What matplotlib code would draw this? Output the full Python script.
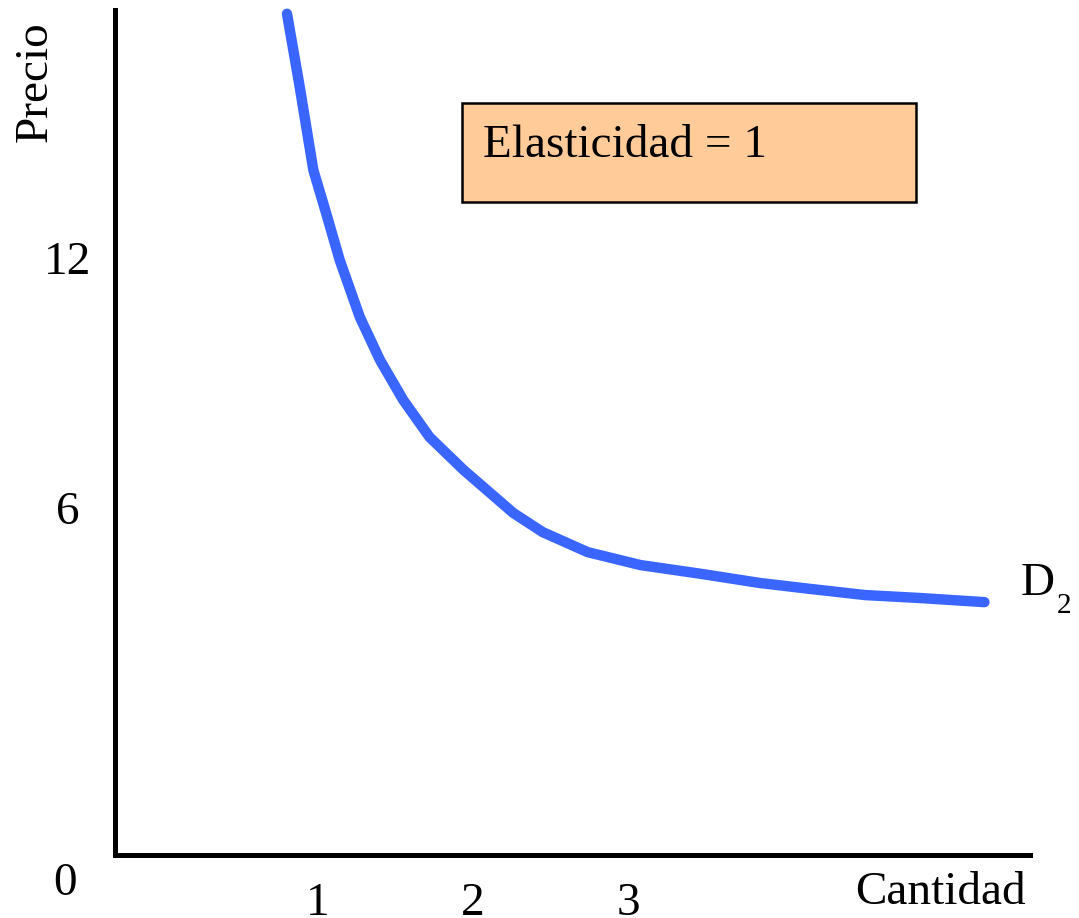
import matplotlib
matplotlib.use('Agg')
import matplotlib.pyplot as plt
from matplotlib.patches import Rectangle

# demand curve D2 (x: cantidad, y: precio)
cantidad = [0.80, 0.88, 0.97, 1.06, 1.14, 1.27, 1.40, 1.55, 1.72, 1.94,
            2.26, 2.45, 2.74, 3.08, 3.47, 3.85, 4.17, 4.53, 4.88, 5.30]
precio = [17.86, 16.15, 14.11, 12.98, 11.95, 10.58, 9.55, 8.59, 7.70, 6.91,
          5.88, 5.42, 4.94, 4.63, 4.42, 4.20, 4.06, 3.91, 3.84, 3.74]

x_ticks = [1, 2, 3]
x_labels = ['1', '2', '3']
y_ticks = [6, 12]
y_labels = ['6', '12']

plt.rcParams['font.family'] = ['Liberation Serif', 'DejaVu Serif']
fs = 34

W, H = 1079, 918
fig = plt.figure(figsize=(W / 100, H / 100), dpi=100)
ax = fig.add_axes([115 / W, (H - 855) / H, (1030 - 115) / W, (855 - 10) / H])

ax.plot(cantidad, precio, color='#3A66FF', linewidth=7.5,
        solid_capstyle='round', solid_joinstyle='round', clip_on=False)

ax.set_xlim(-0.3097, 5.594)
ax.set_ylim(-2.328, 17.95)

for side in ['top', 'right']:
    ax.spines[side].set_visible(False)
for side in ['left', 'bottom']:
    ax.spines[side].set_linewidth(3.6)
    ax.spines[side].set_color('black')

ax.set_xticks(x_ticks)
ax.set_xticklabels(x_labels)
ax.set_yticks(y_ticks)
ax.set_yticklabels(y_labels, ha='center')
ax.tick_params(axis='both', length=0, labelsize=fs)
ax.tick_params(axis='x', pad=20)
ax.tick_params(axis='y', pad=34)

# corner zero, axis names, curve label
fig.text(65 / W, 1 - 884 / H, '0', fontsize=fs, ha='center', va='center')
fig.text(940 / W, 1 - 893 / H, 'Cantidad', fontsize=fs, ha='center', va='center')
fig.text(35 / W, 1 - 82 / H, 'Precio', fontsize=fs, ha='center', va='center',
         rotation=90)
fig.text(1021 / W, 1 - 584 / H, 'D', fontsize=fs, ha='left', va='center')
fig.text(1057 / W, 1 - 606 / H, '2', fontsize=fs * 0.62, ha='left', va='center')

box = Rectangle((462 / W, 1 - 202 / H), (916 - 462) / W, (202 - 103) / H,
                transform=fig.transFigure, facecolor='#FFCC99',
                edgecolor='black', linewidth=1.8)
fig.patches.append(box)
fig.text(483 / W, 1 - 146 / H, 'Elasticidad = 1', fontsize=fs,
         ha='left', va='center')

fig.savefig('out.png', dpi=100, facecolor='white')
